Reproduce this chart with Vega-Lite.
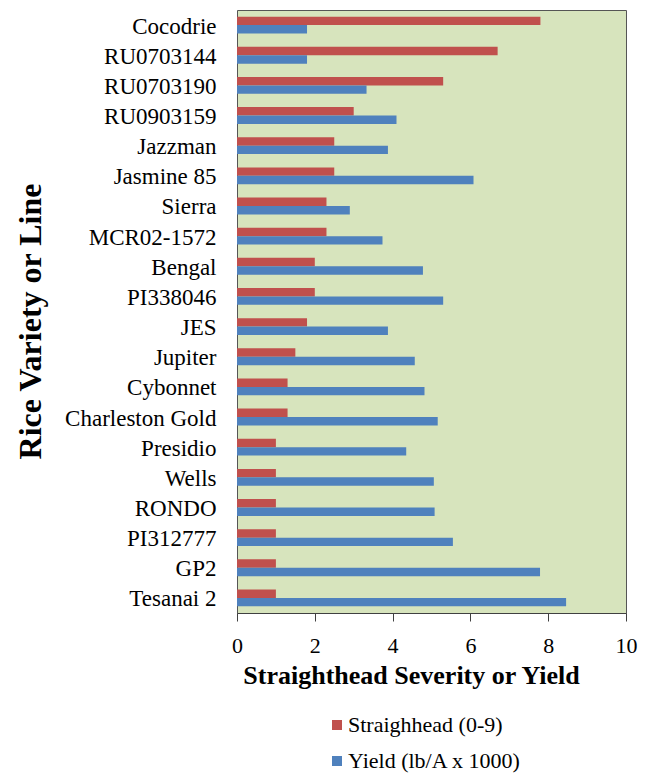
{
  "$schema": "https://vega.github.io/schema/vega-lite/v6.json",
  "autosize": {"type": "none"},
  "padding": {"left": 237, "top": 10, "right": 25, "bottom": 161},
  "width": 389,
  "height": 603,
  "background": "white",
  "data": {"values": [
    {"variety": "Cocodrie", "series": "Straighhead (0-9)", "value": 7.8},
    {"variety": "Cocodrie", "series": "Yield (lb/A x 1000)", "value": 1.8},
    {"variety": "RU0703144", "series": "Straighhead (0-9)", "value": 6.7},
    {"variety": "RU0703144", "series": "Yield (lb/A x 1000)", "value": 1.8},
    {"variety": "RU0703190", "series": "Straighhead (0-9)", "value": 5.3},
    {"variety": "RU0703190", "series": "Yield (lb/A x 1000)", "value": 3.33},
    {"variety": "RU0903159", "series": "Straighhead (0-9)", "value": 3.0},
    {"variety": "RU0903159", "series": "Yield (lb/A x 1000)", "value": 4.1},
    {"variety": "Jazzman", "series": "Straighhead (0-9)", "value": 2.5},
    {"variety": "Jazzman", "series": "Yield (lb/A x 1000)", "value": 3.88},
    {"variety": "Jasmine 85", "series": "Straighhead (0-9)", "value": 2.5},
    {"variety": "Jasmine 85", "series": "Yield (lb/A x 1000)", "value": 6.08},
    {"variety": "Sierra", "series": "Straighhead (0-9)", "value": 2.3},
    {"variety": "Sierra", "series": "Yield (lb/A x 1000)", "value": 2.9},
    {"variety": "MCR02-1572", "series": "Straighhead (0-9)", "value": 2.3},
    {"variety": "MCR02-1572", "series": "Yield (lb/A x 1000)", "value": 3.74},
    {"variety": "Bengal", "series": "Straighhead (0-9)", "value": 2.0},
    {"variety": "Bengal", "series": "Yield (lb/A x 1000)", "value": 4.78},
    {"variety": "PI338046", "series": "Straighhead (0-9)", "value": 2.0},
    {"variety": "PI338046", "series": "Yield (lb/A x 1000)", "value": 5.3},
    {"variety": "JES", "series": "Straighhead (0-9)", "value": 1.8},
    {"variety": "JES", "series": "Yield (lb/A x 1000)", "value": 3.88},
    {"variety": "Jupiter", "series": "Straighhead (0-9)", "value": 1.5},
    {"variety": "Jupiter", "series": "Yield (lb/A x 1000)", "value": 4.57},
    {"variety": "Cybonnet", "series": "Straighhead (0-9)", "value": 1.3},
    {"variety": "Cybonnet", "series": "Yield (lb/A x 1000)", "value": 4.82},
    {"variety": "Charleston Gold", "series": "Straighhead (0-9)", "value": 1.3},
    {"variety": "Charleston Gold", "series": "Yield (lb/A x 1000)", "value": 5.16},
    {"variety": "Presidio", "series": "Straighhead (0-9)", "value": 1.0},
    {"variety": "Presidio", "series": "Yield (lb/A x 1000)", "value": 4.35},
    {"variety": "Wells", "series": "Straighhead (0-9)", "value": 1.0},
    {"variety": "Wells", "series": "Yield (lb/A x 1000)", "value": 5.06},
    {"variety": "RONDO", "series": "Straighhead (0-9)", "value": 1.0},
    {"variety": "RONDO", "series": "Yield (lb/A x 1000)", "value": 5.08},
    {"variety": "PI312777", "series": "Straighhead (0-9)", "value": 1.0},
    {"variety": "PI312777", "series": "Yield (lb/A x 1000)", "value": 5.55},
    {"variety": "GP2", "series": "Straighhead (0-9)", "value": 1.0},
    {"variety": "GP2", "series": "Yield (lb/A x 1000)", "value": 7.79},
    {"variety": "Tesanai 2", "series": "Straighhead (0-9)", "value": 1.0},
    {"variety": "Tesanai 2", "series": "Yield (lb/A x 1000)", "value": 8.46}
  ]},
  "mark": {"type": "bar", "stroke": null},
  "encoding": {
    "y": {
      "field": "variety",
      "type": "nominal",
      "sort": null,
      "scale": {"paddingInner": 0.44, "paddingOuter": 0.22},
      "axis": {
        "title": "Rice Variety or Line",
        "titleFontSize": 32,
        "titleFontWeight": "bold",
        "titleColor": "black",
        "titleAngle": -90,
        "titleAlign": "center",
        "titleBaseline": "middle",
        "titleX": -207,
        "titleY": 311,
        "labelFontSize": 23,
        "labelColor": "black",
        "labelPadding": 21,
        "labelOffset": 1.5,
        "labelLimit": 300,
        "ticks": false,
        "domain": false,
        "grid": false
      }
    },
    "yOffset": {"field": "series", "type": "nominal", "scale": {"paddingInner": 0, "paddingOuter": 0}},
    "x": {
      "field": "value",
      "type": "quantitative",
      "scale": {"domain": [0, 10], "nice": false},
      "axis": {
        "title": "Straighthead  Severity or Yield",
        "titleFontSize": 26,
        "titleFontWeight": "bold",
        "titleColor": "black",
        "titleAlign": "center",
        "titleBaseline": "alphabetic",
        "titleX": 174,
        "titleY": 70,
        "values": [0, 2, 4, 6, 8, 10],
        "labelFontSize": 22,
        "labelColor": "black",
        "labelPadding": 14,
        "labelFlush": false,
        "tickSize": 8,
        "tickColor": "#404040",
        "domainColor": "#404040",
        "grid": false
      }
    },
    "color": {
      "field": "series",
      "type": "nominal",
      "scale": {"range": ["#c0504d", "#4f81bd"]},
      "legend": {
        "title": null,
        "orient": "none",
        "legendX": 89,
        "legendY": 704,
        "direction": "vertical",
        "symbolType": "square",
        "symbolSize": 100,
        "symbolStrokeWidth": 0,
        "labelFontSize": 22,
        "labelColor": "black",
        "labelOffset": 0,
        "rowPadding": 14,
        "padding": 0,
        "labelLimit": 400
      }
    }
  },
  "config": {
    "font": "Liberation Serif, Times New Roman, DejaVu Serif, serif",
    "axis": {"labelFont": "Liberation Serif, Times New Roman, DejaVu Serif, serif", "titleFont": "Liberation Serif, Times New Roman, DejaVu Serif, serif"},
    "legend": {"labelFont": "Liberation Serif, Times New Roman, DejaVu Serif, serif"},
    "view": {"fill": "#d7e4bd", "stroke": "#555555", "strokeWidth": 1}
  }
}
